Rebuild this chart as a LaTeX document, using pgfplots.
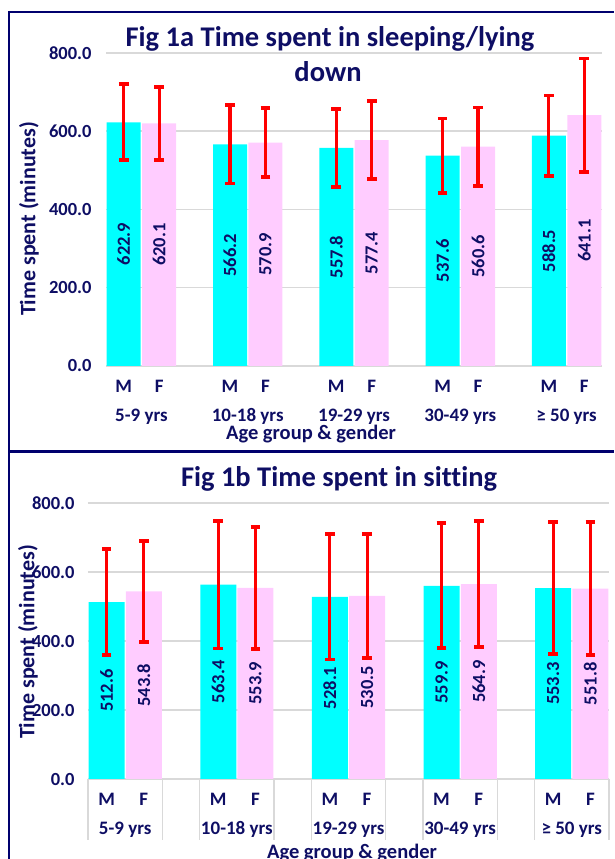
\documentclass[border=0pt]{standalone}
\usepackage{fontspec}
\setmainfont{Carlito}[Ligatures=NoCommon]
\usepackage{pgfplots}
\pgfplotsset{compat=1.18}
\definecolor{navy}{RGB}{0,0,110}
\definecolor{txt}{RGB}{14,14,100}
\definecolor{barM}{RGB}{0,255,255}
\definecolor{barF}{RGB}{255,204,255}
\definecolor{gridc}{RGB}{217,217,217}
\pgfplotsset{
 mystyle/.style={
  scale only axis, anchor=south west,
  xmin=-0.5, xmax=13.5, ymin=0, ymax=800,
  ytick={0,200,400,600,800},
  yticklabels={0.0,200.0,400.0,600.0,800.0},
  ymajorgrids, grid style={gridc, line width=1.5pt},
  axis line style={draw=none},
  major tick length=0pt,
  xtick={0,1,3,4,6,7,9,10,12,13},
  xticklabels={M,F,M,F,M,F,M,F,M,F},
  extra x ticks={0.5,3.5,6.5,9.5,12.5},
  extra x tick labels={5-9 yrs,10-18 yrs,19-29 yrs,30-49 yrs,≥ 50 yrs},
  extra x tick style={major tick length=0pt, xticklabel style={yshift=-29pt}},
  xticklabel style={font=\fontsize{19}{22}\selectfont\bfseries, text=txt, anchor=base, yshift=-27pt},
  yticklabel style={font=\fontsize{18.5}{22}\selectfont\bfseries, text=txt},
  ybar, bar shift=0pt,
  clip=false,
 },
 barlab/.style={
  visualization depends on={rawy \as \rawy},
  nodes near coords={\pgfmathprintnumber[fixed,fixed zerofill,precision=1,assume math mode=true]{\pgfplotspointmeta}},
  every node near coord/.append style={font=\fontsize{18.5}{22}\selectfont\bfseries, text=txt, anchor=center, yshift={-#1*\rawy}, rotate=90},
 },
 ebar/.style={
  error bars/.cd, y dir=both, y explicit,
  error bar style={red, line width=3.2pt},
  error mark options={red, line width=3.8pt, mark size=4.8pt, rotate=90},
 },
}
\begin{document}
\begin{tikzpicture}[x=1pt,y=1pt]
\useasboundingbox (0,0) rectangle (614,859);
% ---------- Panel a ----------
\begin{axis}[mystyle, at={(106pt,493pt)}, width=496pt, height=313pt,
  yticklabel style={xshift=-11pt}]
\addplot[fill=barM, draw=none, bar width=34pt, barlab=0.195625pt, ebar] coordinates {
 (0,622.9) +- (0,97)
 (3,566.2) +- (0,100)
 (6,557.8) +- (0,100)
 (9,537.6) +- (0,95)
 (12,588.5) +- (0,103)
};
\addplot[fill=barF, draw=none, bar width=34pt, barlab=0.195625pt, ebar] coordinates {
 (1,620.1) +- (0,93)
 (4,570.9) +- (0,88)
 (7,577.4) +- (0,99)
 (10,560.6) +- (0,100)
 (13,641.1) +- (0,145)
};
\end{axis}
% ---------- Panel b ----------
\begin{axis}[mystyle, at={(88pt,80pt)}, width=521pt, height=276pt,
  yticklabel style={xshift=-10pt}]
\pgfplotsinvokeforeach{-0.5,1.5,2.5,4.5,5.5,7.5,8.5,10.5,11.5,13.5}{
  \draw[gridc, line width=1.5pt] (axis cs:#1,0) -- ++(0pt,-61pt);
}
\addplot[fill=barM, draw=none, bar width=36pt, barlab=0.1725pt, ebar] coordinates {
 (0,512.6) +- (0,154)
 (3,563.4) +- (0,185)
 (6,528.1) +- (0,182)
 (9,559.9) +- (0,181)
 (12,553.3) +- (0,191)
};
\addplot[fill=barF, draw=none, bar width=36pt, barlab=0.1725pt, ebar] coordinates {
 (1,543.8) +- (0,147)
 (4,553.9) +- (0,177)
 (7,530.5) +- (0,180)
 (10,564.9) +- (0,182)
 (13,551.8) +- (0,193)
};
\end{axis}
% ---------- Text ----------
\node[font=\fontsize{28.5}{34}\selectfont\bfseries, text=txt, anchor=base] at (330,812) {Fig 1a Time spent in sleeping/lying};
\node[font=\fontsize{28.5}{34}\selectfont\bfseries, text=txt, anchor=base] at (328,777) {down};
\node[font=\fontsize{28.5}{34}\selectfont\bfseries, text=txt, anchor=base] at (339,372) {Fig 1b Time spent in sitting};
\node[rotate=90, font=\fontsize{22}{26}\selectfont\bfseries, text=txt] at (29,640) {Time spent (minutes)};
\node[rotate=90, font=\fontsize{22}{26}\selectfont\bfseries, text=txt] at (28,217) {Time spent (minutes)};
\node[font=\fontsize{20.5}{24}\selectfont\bfseries, text=txt, anchor=base] at (311,419) {Age group \& gender};
\node[font=\fontsize{20.5}{24}\selectfont\bfseries, text=txt, anchor=base] at (352,1) {Age group \& gender};
% ---------- Frames ----------
\draw[navy, line width=2pt] (9,847) -- (614,847);
\draw[navy, line width=2.5pt] (9,848) -- (9,0);
\draw[navy, line width=3pt] (9,407) -- (614,407);
\end{tikzpicture}
\end{document}
